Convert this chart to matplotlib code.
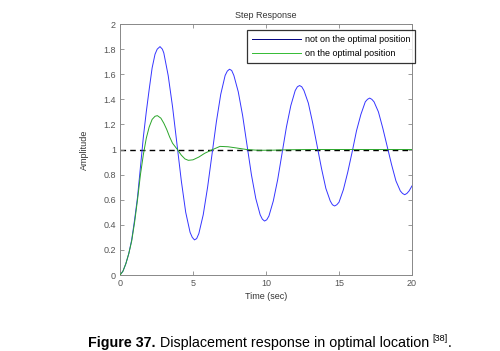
"""
Step response: displacement not on / on the optimal position (Figure 37)
"""
import numpy as np
import matplotlib
matplotlib.use("Agg")
import matplotlib.pyplot as plt
from matplotlib.ticker import FuncFormatter

# blue curve: not on the optimal position
t_not = [0, 0.2, 0.4, 0.6, 0.8, 1.0, 1.2, 1.4, 1.6, 1.8, 2.0, 2.2, 2.4, 2.55, 2.74, 2.9,
         3.0, 3.3, 3.6, 3.9, 4.2, 4.5, 4.8, 4.95, 5.1, 5.25,
         5.4, 5.7, 6.0, 6.3, 6.6, 6.9, 7.2, 7.35, 7.5, 7.65,
         7.8, 8.1, 8.4, 8.7, 9.0, 9.3, 9.6, 9.75, 9.9, 10.05,
         10.2, 10.5, 10.8, 11.1, 11.4, 11.7, 12.0, 12.15, 12.3, 12.45,
         12.6, 12.9, 13.2, 13.5, 13.8, 14.1, 14.4, 14.55, 14.7, 14.85,
         15.0, 15.3, 15.6, 15.9, 16.2, 16.5, 16.8, 16.95, 17.1, 17.25,
         17.4, 17.7, 18.0, 18.3, 18.6, 18.9, 19.2, 19.35, 19.5, 19.65,
         19.8, 20.0]
y_not = [0, 0.03, 0.09, 0.17, 0.28, 0.44, 0.62, 0.86, 1.10, 1.30, 1.48, 1.65, 1.76, 1.80, 1.82, 1.80,
         1.77, 1.59, 1.34, 1.045, 0.75, 0.50, 0.34, 0.30, 0.28, 0.29,
         0.33, 0.48, 0.70, 0.96, 1.22, 1.44, 1.59, 1.625, 1.64, 1.63,
         1.59, 1.46, 1.27, 1.035, 0.80, 0.61, 0.48, 0.445, 0.43, 0.44,
         0.47, 0.59, 0.76, 0.97, 1.18, 1.35, 1.47, 1.50, 1.51, 1.50,
         1.47, 1.37, 1.21, 1.03, 0.85, 0.69, 0.59, 0.56, 0.55, 0.56,
         0.58, 0.68, 0.82, 0.98, 1.15, 1.28, 1.38, 1.40, 1.41, 1.40,
         1.38, 1.30, 1.17, 1.025, 0.88, 0.75, 0.67, 0.65, 0.64, 0.65,
         0.67, 0.71]

# green curve: on the optimal position
t_opt = [0, 0.2, 0.4, 0.6, 0.8, 1.0, 1.2, 1.4, 1.6, 1.8, 2.0, 2.2, 2.4, 2.56,
         2.8, 3.0, 3.2, 3.4, 3.6, 3.93, 4.2, 4.45, 4.68, 5.0, 5.4, 5.8, 6.35,
         6.85, 7.4, 8.0, 8.68, 9.5, 10.5, 11.5, 13.0, 20.0]
y_opt = [0, 0.03, 0.09, 0.17, 0.27, 0.42, 0.60, 0.80, 0.96, 1.09, 1.18, 1.24, 1.265, 1.27,
         1.25, 1.21, 1.16, 1.10, 1.05, 1.0, 0.955, 0.925, 0.914, 0.918, 0.94, 0.97, 1.0,
         1.025, 1.022, 1.012, 1.0, 0.994, 0.995, 0.998, 1.0, 1.0]

x_ticks = [0, 5, 10, 15, 20]
y_ticks = [0, 0.2, 0.4, 0.6, 0.8, 1.0, 1.2, 1.4, 1.6, 1.8, 2.0]
ref_level = 1.0

plt.rcParams['font.family'] = ['Liberation Sans', 'DejaVu Sans']

fig = plt.figure(figsize=(5.0, 3.51), dpi=100)
ax = fig.add_axes([0.24, 0.2165, 0.584, 0.715])

ax.plot([x_ticks[0], x_ticks[-1]], [ref_level, ref_level], color='black',
        linestyle=(0, (4, 3)), linewidth=1.0, zorder=1)
ax.plot(t_not, y_not, color='#3535ff', linewidth=0.7, label='not on the optimal position', zorder=2)
ax.plot(t_opt, y_opt, color='#2aa52a', linewidth=0.7, label='on the optimal position', zorder=3)

ax.set_xlim(0, 20)
ax.set_ylim(0, 2)
ax.set_xticks(x_ticks)
ax.set_yticks(y_ticks)
ax.xaxis.set_major_formatter(FuncFormatter(lambda v, p: '%g' % v))
ax.yaxis.set_major_formatter(FuncFormatter(lambda v, p: '%g' % v))
ax.tick_params(direction='in', length=3, width=0.6, color='#888888',
               labelsize=6.5, labelcolor='#555555', top=True, right=True, pad=3)
for s in ax.spines.values():
    s.set_color('#888888')
    s.set_linewidth(0.7)

ax.set_title('Step Response', fontsize=6.5, color='#333333', pad=4)
ax.set_xlabel('Time (sec)', fontsize=6.5, color='#333333', labelpad=3)
ax.set_ylabel('Amplitude', fontsize=6.5, color='#333333', labelpad=10)

leg = ax.legend(loc='upper right', bbox_to_anchor=(1.01, 0.975), fontsize=6.5,
                frameon=True, fancybox=False, edgecolor='black', handlelength=5.5,
                borderpad=0.5, labelspacing=0.6, handletextpad=0.4, borderaxespad=0)
leg.get_frame().set_linewidth(0.9)
leg.get_lines()[0].set_color('#000080')
leg.get_lines()[1].set_color('#33bb33')

# caption below the chart
cap_font = ['Liberation Sans', 'DejaVu Sans']
base_y = 1 - 347 / 351
t1 = fig.text(88 / 500, base_y, 'Figure 37.', fontsize=10.3, fontweight='bold',
              family=cap_font, va='baseline')
t2 = fig.text(0, base_y, ' Displacement response in optimal location ', fontsize=10.3,
              family=cap_font, va='baseline')
fig.canvas.draw()
r = fig.canvas.get_renderer()
bb = t1.get_window_extent(r)
t2.set_position((bb.x1 / fig.bbox.width, base_y))
fig.canvas.draw()
bb2 = t2.get_window_extent(r)
t3 = fig.text(bb2.x1 / fig.bbox.width, 1 - 341 / 351, '[38]', fontsize=6.6,
              family=cap_font, va='baseline')
fig.canvas.draw()
bb3 = t3.get_window_extent(r)
fig.text(bb3.x1 / fig.bbox.width, base_y, '.', fontsize=10.3,
         family=cap_font, va='baseline')

fig.savefig('out.png', dpi=100)
